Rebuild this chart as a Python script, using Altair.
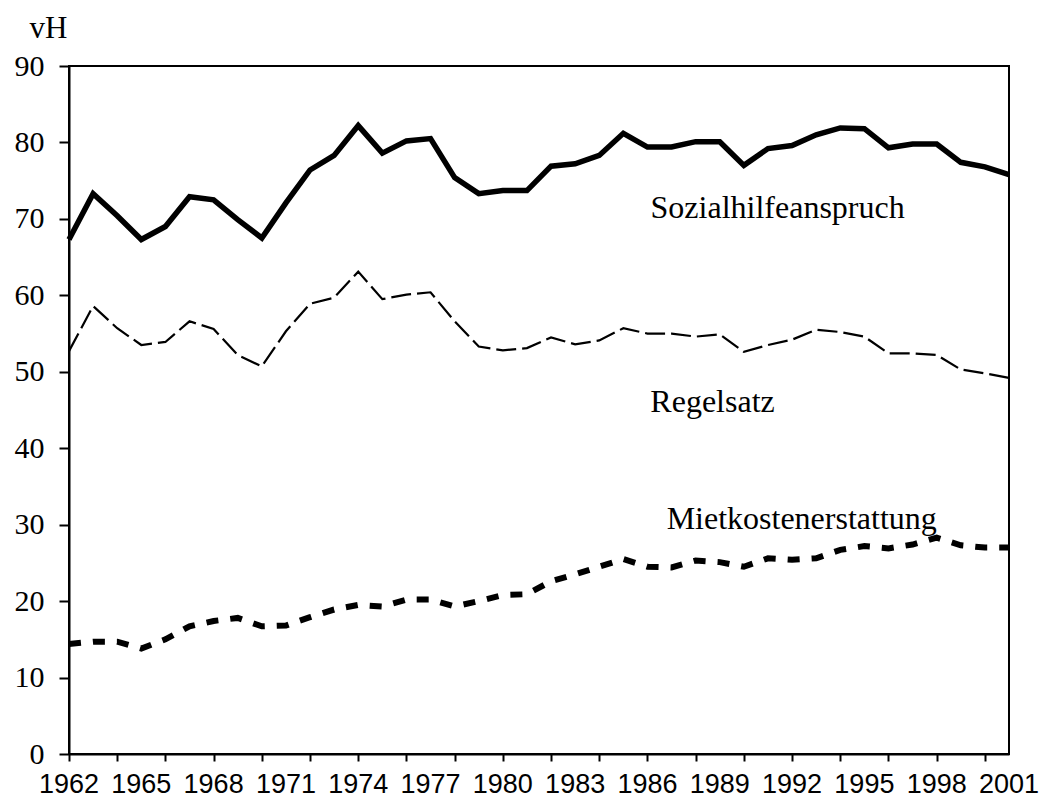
import altair as alt
import pandas as pd

years = list(range(1962, 2002))
sozial = [67.3, 73.3, 70.4, 67.3, 69.0, 72.9, 72.5, 69.9, 67.5, 72.1,
          76.4, 78.3, 82.2, 78.6, 80.2, 80.5, 75.4, 73.3, 73.7, 73.7,
          76.9, 77.2, 78.3, 81.2, 79.4, 79.4, 80.1, 80.1, 77.0, 79.2,
          79.6, 81.0, 81.9, 81.8, 79.3, 79.8, 79.8, 77.4, 76.8, 75.8]
regel = [52.7, 58.6, 55.7, 53.5, 53.9, 56.6, 55.6, 52.2, 50.7, 55.3,
         58.9, 59.7, 63.1, 59.5, 60.1, 60.4, 56.6, 53.3, 52.8, 53.1,
         54.5, 53.6, 54.1, 55.7, 55.0, 55.0, 54.6, 54.9, 52.6, 53.5,
         54.2, 55.5, 55.2, 54.6, 52.4, 52.4, 52.2, 50.3, 49.8, 49.2]
miet = [14.4, 14.7, 14.7, 13.8, 15.0, 16.7, 17.4, 17.8, 16.7, 16.8,
        17.9, 18.9, 19.5, 19.3, 20.2, 20.2, 19.3, 20.0, 20.8, 20.9,
        22.6, 23.5, 24.5, 25.5, 24.5, 24.4, 25.3, 25.1, 24.5, 25.6,
        25.4, 25.6, 26.7, 27.2, 26.9, 27.4, 28.3, 27.3, 27.0, 27.0]

label_names = ["Sozialhilfeanspruch", "Regelsatz", "Mietkostenerstattung"]
label_years = [1991.4, 1988.7, 1992.4]
label_values = [71.4, 46.0, 30.7]

x_label_years = list(range(1962, 2002, 3))

df = pd.DataFrame({"Jahr": years, "Sozialhilfeanspruch": sozial,
                   "Regelsatz": regel, "Mietkostenerstattung": miet})
lab = pd.DataFrame({"name": label_names, "Jahr": label_years, "v": label_values})
xl = pd.DataFrame({"Jahr": x_label_years, "t": [str(y) for y in x_label_years]})

xscale = alt.Scale(domain=[1962, 2001], nice=False, zero=False)
yscale = alt.Scale(domain=[0, 90], nice=False)

xaxis = alt.Axis(values=years, title=None, grid=False, labels=False,
                 tickSize=7, tickColor="black", tickWidth=2,
                 domainColor="black", domainWidth=2)
yaxis = alt.Axis(values=list(range(0, 91, 10)), title="vH", grid=False,
                 labelFont="Liberation Serif", labelFontSize=30, labelColor="black",
                 labelPadding=15, tickSize=10, tickColor="black", tickWidth=2,
                 domainColor="black", domainWidth=2,
                 titleAngle=0, titleFont="Liberation Serif", titleFontSize=31,
                 titleFontWeight="normal", titleColor="black",
                 titleX=-21, titleY=-29, titleAlign="center", titleBaseline="alphabetic")

base = alt.Chart(df)

l1 = base.mark_line(color="black", strokeWidth=5.5, strokeJoin="miter").encode(
    x=alt.X("Jahr:Q", scale=xscale, axis=xaxis),
    y=alt.Y("Sozialhilfeanspruch:Q", scale=yscale, axis=yaxis))
l2 = base.mark_line(color="black", strokeWidth=2.2, strokeDash=[20, 6]).encode(
    x=alt.X("Jahr:Q", scale=xscale),
    y=alt.Y("Regelsatz:Q", scale=yscale))
l3 = base.mark_line(color="black", strokeWidth=6, strokeDash=[12, 12]).encode(
    x=alt.X("Jahr:Q", scale=xscale),
    y=alt.Y("Mietkostenerstattung:Q", scale=yscale))
txt = alt.Chart(lab).mark_text(font="Liberation Serif", fontSize=32, color="black",
                               align="center", baseline="middle").encode(
    x=alt.X("Jahr:Q", scale=xscale),
    y=alt.Y("v:Q", scale=yscale),
    text="name:N")
xtxt = alt.Chart(xl).mark_text(font="Liberation Sans", fontSize=27, color="black",
                               align="center", baseline="alphabetic", dy=39).encode(
    x=alt.X("Jahr:Q", scale=xscale),
    y=alt.Y(datum=0, scale=yscale),
    text="t:N")

chart = alt.layer(l1, l2, l3, txt, xtxt).properties(
    width=940, height=688,
    autosize=alt.AutoSizeParams(type="none"),
    padding={"left": 61, "top": 58, "right": 30, "bottom": 46},
    background="white",
).configure_view(stroke="black", strokeWidth=2)

chart.save("out.html", embed_options={"renderer": "svg", "actions": False})
